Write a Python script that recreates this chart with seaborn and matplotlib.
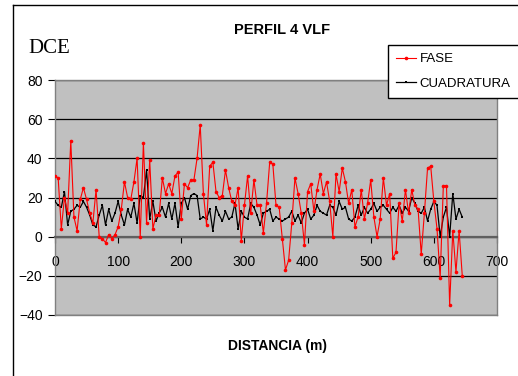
import matplotlib
matplotlib.use("Agg")
import matplotlib.pyplot as plt
from matplotlib.lines import Line2D
import seaborn as sns
import pandas as pd

# ---- data ----
distancia = list(range(0, 650, 5))

fase = [
    31, 30, 4, 20, 12, 49, 10, 3, 19, 25,
    19, 12, 7, 24, 0, -1, -3, 1, -1, 1,
    5, 14, 28, 20, 19, 28, 40, 0, 48, 7,
    39, 4, 11, 11, 30, 22, 27, 22, 31, 33,
    9, 27, 25, 29, 29, 40, 57, 22, 6, 36,
    38, 23, 20, 21, 34, 25, 18, 16, 25, -2,
    16, 31, 12, 29, 16, 16, 2, 17, 38, 37,
    16, 15, -1, -17, -12, 7, 30, 22, 12, -4,
    23, 27, 13, 24, 32, 22, 28, 18, 0, 32,
    23, 35, 28, 17, 24, 5, 10, 24, 9, 17,
    29, 10, 0, 9, 30, 16, 22, -11, -8, 17,
    8, 24, 12, 24, 16, 14, -9, 12, 35, 36,
    18, 4, -21, 26, 26, -35, 3, -18, 3, -20,
]

cuadratura = [
    18, 16, 15, 23, 6, 13, 14, 16, 15, 18,
    15, 11, 6, 5, 11, 16, 6, 14, 8, 12,
    18, 11, 6, 14, 10, 17, 7, 21, 20, 34,
    9, 18, 8, 12, 15, 10, 17, 9, 17, 5,
    17, 20, 14, 21, 22, 21, 9, 10, 9, 14,
    3, 15, 11, 8, 13, 9, 10, 17, 4, 13,
    10, 9, 17, 15, 11, 6, 12, 13, 14, 8,
    10, 9, 8, 9, 10, 13, 8, 11, 7, 12,
    14, 9, 11, 16, 13, 12, 11, 16, 15, 11,
    18, 14, 15, 9, 8, 10, 16, 11, 15, 12,
    14, 17, 13, 15, 16, 14, 12, 15, 13, 16,
    12, 15, 13, 20, 17, 13, 12, 15, 8, 14,
    18, 16, 0, 10, 15, 0, 22, 9, 14, 10,
]

x_ticks = [0, 100, 200, 300, 400, 500, 600, 700]
y_ticks = [-40, -20, 0, 20, 40, 60, 80]

title = "PERFIL 4 VLF"
x_label = "DISTANCIA (m)"
y_label = "DCE"
series_names = ["FASE", "CUADRATURA"]

n = min(len(distancia), len(fase), len(cuadratura))
df_f = pd.DataFrame({"x": distancia[:n], "y": fase[:n]})
df_c = pd.DataFrame({"x": distancia[:n], "y": cuadratura[:n]})

# ---- figure ----
W, H = 518, 376
plt.rcParams["font.family"] = ["Liberation Sans", "DejaVu Sans"]
fig = plt.figure(figsize=(W / 100, H / 100), dpi=100)
fig.patch.set_facecolor("white")

L, R, T, B = 55, 497, 80, 315
ax = fig.add_axes([L / W, 1 - B / H, (R - L) / W, (B - T) / H])
ax.set_facecolor("#C0C0C0")

sns.lineplot(data=df_f, x="x", y="y", ax=ax, color="#FF0000", lw=0.8,
             marker="o", markersize=2.6, markeredgewidth=0, label=series_names[0],
             zorder=4)
sns.lineplot(data=df_c, x="x", y="y", ax=ax, color="black", lw=0.9,
             marker="s", markersize=1.6, markeredgewidth=0, label=series_names[1],
             zorder=3)

ax.set_xlim(0, 700)
ax.set_ylim(-40, 80)
ax.set_xticks(x_ticks)
ax.set_yticks(y_ticks)
ax.set_xlabel("")
ax.set_ylabel("")

ax.set_axisbelow(True)
ax.grid(axis="y", color="black", linewidth=0.9)
ax.grid(axis="x", visible=False)

ax.spines["bottom"].set_position(("data", 0))
ax.spines["bottom"].set_color("#606060")
ax.spines["bottom"].set_linewidth(1.6)
ax.spines["bottom"].set_zorder(2.5)
for s in ["top", "right"]:
    ax.spines[s].set_color("#808080")
    ax.spines[s].set_linewidth(1.0)
ax.spines["left"].set_color("#808080")
ax.spines["left"].set_linewidth(1.0)
# bottom border of plot area
ax.add_line(Line2D([0, 1], [0, 0], transform=ax.transAxes, color="#808080",
                   lw=1.0, clip_on=False, zorder=2))

ax.tick_params(axis="x", direction="out", length=4, width=0.8, color="black",
               labelsize=10, pad=9)
ax.tick_params(axis="y", direction="out", length=5, width=0.8, color="black",
               labelsize=10, pad=4)

# legend
leg = ax.legend(loc="upper left", bbox_to_anchor=(388 / W, 1 - 45 / H),
                bbox_transform=fig.transFigure, frameon=True, fancybox=False,
                shadow=False, fontsize=9.5, handlelength=1.5, handletextpad=0.3,
                labelspacing=0.95, borderpad=0.6, borderaxespad=0,
                markerscale=1.0)
leg.get_frame().set_edgecolor("black")
leg.get_frame().set_linewidth(1.0)
leg.get_frame().set_facecolor("white")
leg.get_frame().set_alpha(1)

# texts
fig.text(282 / W, 1 - 30 / H, title, ha="center", va="center",
         fontsize=10.5, fontweight="bold")
fig.text(278 / W, 1 - 346 / H, x_label, ha="center", va="center",
         fontsize=10, fontweight="bold")
fig.text(28 / W, 1 - 53 / H, y_label, ha="left", va="baseline",
         fontsize=15, family=["Liberation Serif", "DejaVu Serif"])

# chart-area border (left and top edges visible)
fig.add_artist(Line2D([12.5 / W, 12.5 / W], [0, 1 - 5 / H], transform=fig.transFigure,
                      color="black", lw=1.0))
fig.add_artist(Line2D([12.5 / W, 1], [1 - 5 / H, 1 - 5 / H], transform=fig.transFigure,
                      color="black", lw=1.0))

fig.savefig("out.png", dpi=100, facecolor="white")
